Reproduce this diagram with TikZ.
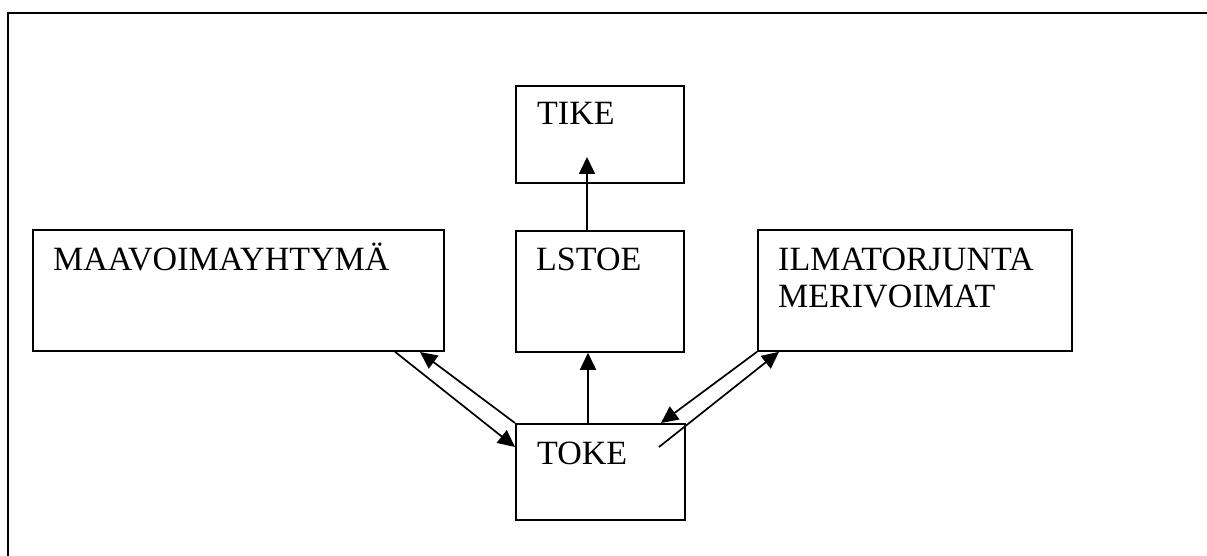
\documentclass[tikz,border=0pt]{standalone}
\usepackage{fontspec}
\setmainfont{Liberation Serif}
\usetikzlibrary{arrows.meta,calc}
\tikzset{
  box/.style={draw, line width=1.8pt, inner sep=0pt, anchor=north west, rectangle},
  lbl/.style={anchor=base west, inner sep=0pt, font=\fontsize{34}{39}\selectfont},
  arr/.style={line width=1.7pt, -{Triangle[length=17pt,width=16pt]}},
  frame/.style={line width=2.4pt}
}
\begin{document}
\begin{tikzpicture}[x=1pt,y=-1pt]
\useasboundingbox (0,0) rectangle (1207,556);
\draw[frame] (1207,13) -- (8,13) -- (8,556);
% boxes
\node[box, minimum width=411, minimum height=121] (maa) at (32,229) {};
\node[box, minimum width=168, minimum height=97] (tike) at (515,85) {};
\node[box, minimum width=168, minimum height=121] (lstoe) at (515,230) {};
\node[box, minimum width=314, minimum height=121] (ilma) at (757,229) {};
\node[box, minimum width=169, minimum height=96] (toke) at (515,423) {};
% labels
\node[lbl] (maaT) at (53,270) {MAAVOIMAYHTYMÄ};
\node[lbl] (tikeT) at (537,125) {TIKE};
\node[lbl] (lstoeT) at (536,270) {LSTOE};
\node[lbl] (ilmaA) at (778,270) {ILMATORJUNTA};
\node[lbl] (ilmaB) at (778,307) {MERIVOIMAT};
\node[lbl] (tokeT) at (537,464) {TOKE};
% connector coordinates
\coordinate (c1) at (587,157);
\coordinate (c2) at (588,0);
\coordinate (c3) at (395,0);
\coordinate (c4) at (0,447);
\coordinate (c5) at (420,352);
\coordinate (c6) at (661,0);
\coordinate (c7) at (659,447);
\coordinate (c8) at (779,0);
% connectors
\draw[arr] (lstoe.north -| c1) -- (c1);
\draw[arr] (toke.north -| c2) -- (lstoe.south -| c2);
\draw[arr] (maa.south -| c3) -- (toke.west |- c4);
\draw[arr] (toke.north west) -- (c5);
\draw[arr] (ilma.south west) -- (toke.north -| c6);
\draw[arr] (c7) -- (ilma.south -| c8);
\end{tikzpicture}
\end{document}
